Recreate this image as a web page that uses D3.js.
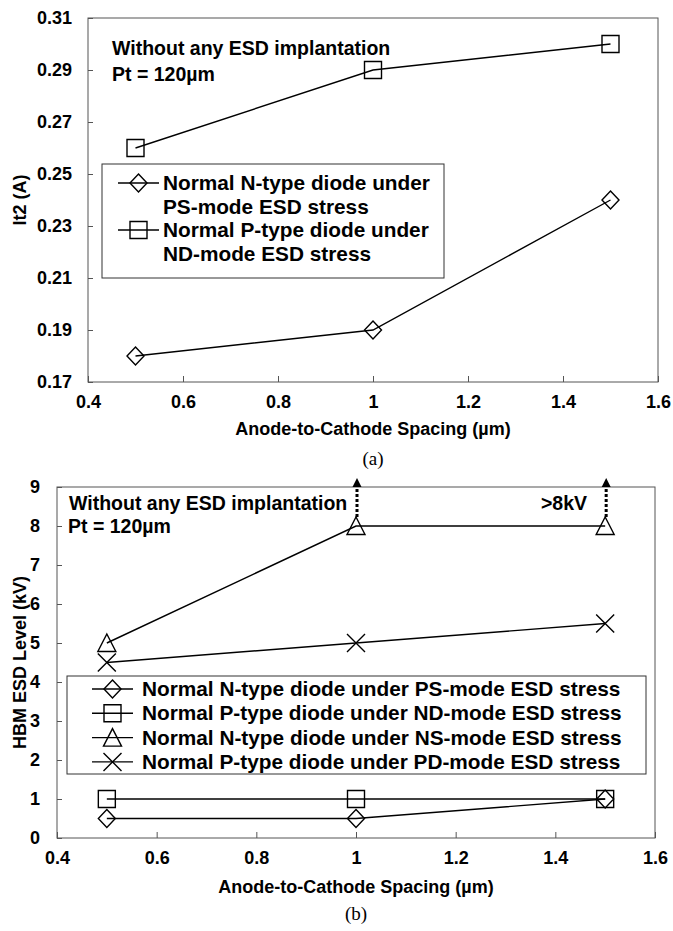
<!DOCTYPE html>
<html><head><meta charset="utf-8">
<script src="https://cdn.jsdelivr.net/npm/d3@7/dist/d3.min.js"></script>
<style>
body{margin:0;background:#fff;}
svg text{font-family:"Liberation Sans",Arial,Helvetica,sans-serif;font-weight:bold;fill:#000;}
</style></head><body>
<svg id="c" width="673" height="931" xmlns="http://www.w3.org/2000/svg"></svg>
<script>
// ---------- data ----------
const spacing = [0.5, 1.0, 1.5];
const xTicks = [0.4, 0.6, 0.8, 1.0, 1.2, 1.4, 1.6];
const xTitle = "Anode-to-Cathode Spacing (\u00b5m)";
// chart (a)
const aYTicks = [0.17, 0.19, 0.21, 0.23, 0.25, 0.27, 0.29, 0.31];
const aNtypePS = [0.18, 0.19, 0.24];
const aPtypeND = [0.26, 0.29, 0.30];
const aYTitle = "It2 (A)";
const aNote = ["Without any ESD implantation", "Pt = 120\u00b5m"];
const aLegend = [
  ["Normal N-type diode under", "PS-mode ESD stress"],
  ["Normal P-type diode under", "ND-mode ESD stress"]
];
// chart (b)
const bYTicks = [0, 1, 2, 3, 4, 5, 6, 7, 8, 9];
const bNtypePS = [0.5, 0.5, 1.0];
const bPtypeND = [1.0, 1.0, 1.0];
const bNtypeNS = [5.0, 8.0, 8.0];
const bPtypePD = [4.5, 5.0, 5.5];
const bYTitle = "HBM ESD Level (kV)";
const bNote = ["Without any ESD implantation", "Pt = 120\u00b5m"];
const bNoteRight = ">8kV";
const bLegend = [
  "Normal N-type diode under PS-mode ESD stress",
  "Normal P-type diode under ND-mode ESD stress",
  "Normal N-type diode under NS-mode ESD stress",
  "Normal P-type diode under PD-mode ESD stress"
];
const bArrowX = [1.0, 1.5];
const bArrowFrom = 8, bArrowTo = 9;
const captions = ["(a)", "(b)"];

// ---------- helpers ----------
const svg = d3.select("#c");
const FRAME = "#555";

function marker(g, type, x, y) {
  let d;
  if (type === "diamond") d = `M${x},${y-9}L${x+8.5},${y}L${x},${y+9}L${x-8.5},${y}Z`;
  else if (type === "square") d = `M${x-8.5},${y-8.5}h17v17h-17Z`;
  else if (type === "triangle") d = `M${x},${y-9}L${x+9},${y+8.5}L${x-9},${y+8.5}Z`;
  else d = `M${x-9},${y-9}L${x+9},${y+9}M${x+9},${y-9}L${x-9},${y+9}`;
  g.append("path").attr("d", d).attr("fill", "none").attr("stroke", "#000").attr("stroke-width", 1.4);
}

function series(g, x, y, vals, type) {
  const pts = spacing.map((s, i) => [x(s), y(vals[i])]);
  g.append("path").attr("d", d3.line()(pts)).attr("fill", "none").attr("stroke", "#000").attr("stroke-width", 1.4);
  pts.forEach(p => marker(g, type, p[0], p[1]));
}

function axes(g, x, y, yTicks, fmt, L, R, T, B, ypad) {
  g.append("rect").attr("x", L).attr("y", T).attr("width", R - L).attr("height", B - T)
    .attr("fill", "none").attr("stroke", FRAME).attr("stroke-width", 1);
  const ax = g.append("g").attr("transform", `translate(0,${B})`)
    .call(d3.axisBottom(x).tickValues(xTicks).tickFormat(d3.format("~g")).tickSize(-6).tickPadding(13));
  const ay = g.append("g").attr("transform", `translate(${L},0)`)
    .call(d3.axisLeft(y).tickValues(yTicks).tickFormat(fmt).tickSize(-5).tickPadding(ypad));
  [ax, ay].forEach(a => {
    a.select(".domain").remove();
    a.selectAll("line").attr("stroke", FRAME);
    a.selectAll("text").attr("font-size", 18).attr("font-family", "Liberation Sans, Arial, sans-serif").attr("font-weight", "bold").attr("fill", "#000");
  });
}

// ---------- chart (a) ----------
{
  const L = 88, R = 658, T = 18, B = 382;
  const x = d3.scaleLinear().domain([0.4, 1.6]).range([L, R]);
  const y = d3.scaleLinear().domain([0.17, 0.31]).range([B, T]);
  const g = svg.append("g");
  axes(g, x, y, aYTicks, d3.format(".2f"), L, R, T, B, 16);
  series(g, x, y, aPtypeND, "square");
  series(g, x, y, aNtypePS, "diamond");
  g.append("text").attr("x", 112).attr("y", 55).attr("font-size", 19.5).text(aNote[0]);
  g.append("text").attr("x", 112).attr("y", 81).attr("font-size", 19.5).text(aNote[1]);
  // legend
  const lg = g.append("g");
  lg.append("rect").attr("x", 102).attr("y", 164).attr("width", 342).attr("height", 114)
    .attr("fill", "#fff").attr("stroke", "#333").attr("stroke-width", 1);
  const types = ["diamond", "square"];
  aLegend.forEach((lines, i) => {
    const cy = 183 + i * 47;
    lg.append("line").attr("x1", 118).attr("x2", 159).attr("y1", cy).attr("y2", cy).attr("stroke", "#000").attr("stroke-width", 1.4);
    marker(lg, types[i], 138.5, cy);
    lines.forEach((t, j) => lg.append("text").attr("x", 163).attr("y", cy + 7 + j * 24).attr("font-size", 20.8).text(t));
  });
  g.append("text").attr("x", (L + R) / 2).attr("y", 435).attr("text-anchor", "middle").attr("font-size", 18).text(xTitle);
  g.append("text").attr("transform", `translate(26,${(T + B) / 2}) rotate(-90)`).attr("text-anchor", "middle").attr("font-size", 18).text(aYTitle);
  g.append("text").attr("x", (L + R) / 2).attr("y", 465).attr("text-anchor", "middle")
    .style("font-family", "'Liberation Serif','Times New Roman',serif").style("font-weight", "normal").attr("font-size", 19).text(captions[0]);
}

// ---------- chart (b) ----------
{
  const L = 57, R = 655, T = 487, B = 838;
  const x = d3.scaleLinear().domain([0.4, 1.6]).range([L, R]);
  const y = d3.scaleLinear().domain([0, 9]).range([B, T]);
  const g = svg.append("g");
  axes(g, x, y, bYTicks, d3.format("d"), L, R, T, B, 17);
  series(g, x, y, bNtypeNS, "triangle");
  series(g, x, y, bPtypePD, "cross");
  series(g, x, y, bPtypeND, "square");
  series(g, x, y, bNtypePS, "diamond");
  // arrows
  bArrowX.forEach(v => {
    const ax = x(v) + 1;
    const y0 = y(bArrowFrom) - 9, y1 = y(bArrowTo) - 9;
    g.append("line").attr("x1", ax).attr("x2", ax).attr("y1", y0).attr("y2", y1 + 7)
      .attr("stroke", "#000").attr("stroke-width", 3).attr("stroke-dasharray", "3,2");
    g.append("path").attr("d", `M${ax},${y1}L${ax+4.5},${y1+9}L${ax-4.5},${y1+9}Z`).attr("fill", "#000");
  });
  g.append("text").attr("x", 69).attr("y", 510).attr("font-size", 19.5).text(bNote[0]);
  g.append("text").attr("x", 68).attr("y", 533).attr("font-size", 19.5).text(bNote[1]);
  g.append("text").attr("x", 587).attr("y", 510).attr("text-anchor", "end").attr("font-size", 19.5).text(bNoteRight);
  const lg = g.append("g");
  lg.append("rect").attr("x", 67).attr("y", 676).attr("width", 579).attr("height", 98)
    .attr("fill", "#fff").attr("stroke", "#333").attr("stroke-width", 1);
  const types = ["diamond", "square", "triangle", "cross"];
  bLegend.forEach((t, i) => {
    const cy = 689 + i * 24.3;
    lg.append("line").attr("x1", 92).attr("x2", 133).attr("y1", cy).attr("y2", cy).attr("stroke", "#000").attr("stroke-width", 1.4);
    marker(lg, types[i], 112.5, cy);
    lg.append("text").attr("x", 142).attr("y", cy + 7).attr("font-size", 20.8).text(t);
  });
  g.append("text").attr("x", (L + R) / 2).attr("y", 893).attr("text-anchor", "middle").attr("font-size", 18).text(xTitle);
  g.append("text").attr("transform", `translate(26,${(T + B) / 2}) rotate(-90)`).attr("text-anchor", "middle").attr("font-size", 18).text(bYTitle);
  g.append("text").attr("x", (L + R) / 2).attr("y", 920).attr("text-anchor", "middle")
    .style("font-family", "'Liberation Serif','Times New Roman',serif").style("font-weight", "normal").attr("font-size", 19).text(captions[1]);
}
</script>
</body></html>
